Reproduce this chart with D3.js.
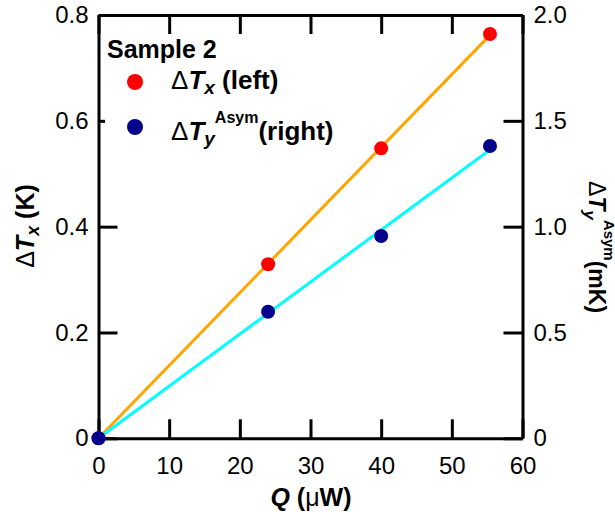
<!DOCTYPE html>
<html>
<head>
<meta charset="utf-8">
<script src="https://cdn.jsdelivr.net/npm/d3@7"></script>
<style>
body { margin: 0; background: #fff; }
text { font-family: "Liberation Sans", Arial, sans-serif; }
</style>
</head>
<body>
<svg id="chart" width="615" height="512"></svg>
<script>
// values (Sample 2)
var qValues = [0, 24, 40, 55.4];          // Q (uW)
var dTx = [0, 0.329, 0.548, 0.764];       // dTx (K), left axis
var dTyAsym = [0, 0.598, 0.956, 1.381];   // dTy^Asym (mK), right axis
var xTicks = [0, 10, 20, 30, 40, 50, 60];
var leftTicks = [0, 0.2, 0.4, 0.6, 0.8];
var rightTicks = [0, 0.5, 1.0, 1.5, 2.0];

var svg = d3.select("#chart");
// note: "top" is taken by window.top, so use plot* names
var plotLeft = 98.5, plotRight = 522.5, plotTop = 15, plotBottom = 438.3;
var tickLen = 19;

var x = d3.scaleLinear().domain([0, 60]).range([plotLeft, plotRight]);
var yL = d3.scaleLinear().domain([0, 0.8]).range([plotBottom, plotTop]);
var yR = d3.scaleLinear().domain([0, 2.0]).range([plotBottom, plotTop]);

function fmt(d) {
    return d === 0 ? "0" : d3.format(".1f")(d);
}

function styleAxis(g) {
    g.selectAll("path, line").attr("stroke", "#000").attr("stroke-width", 3);
    g.selectAll("text").attr("fill", "#000").style("font-size", "24px")
        .style("font-family", '"Liberation Sans", Arial, sans-serif');
}

// fit lines through origin (least squares)
function slopeOf(xs, ys) {
    return d3.sum(xs, function (v, i) { return v * ys[i]; }) /
        d3.sum(xs, function (v) { return v * v; });
}
var xMax = d3.max(qValues);
var kx = slopeOf(qValues, dTx);
var ky = slopeOf(qValues, dTyAsym);

svg.append("line")
    .attr("x1", x(0)).attr("y1", yL(0))
    .attr("x2", x(xMax)).attr("y2", yL(kx * xMax))
    .attr("stroke", "#ffa500").attr("stroke-width", 3);

svg.append("line")
    .attr("x1", x(0)).attr("y1", yR(0))
    .attr("x2", x(xMax)).attr("y2", yR(ky * xMax))
    .attr("stroke", "#00ffff").attr("stroke-width", 3);

// axes, ticks pointing in
svg.append("g").attr("transform", "translate(0," + plotBottom + ")")
    .call(d3.axisBottom(x).tickValues(xTicks).tickSize(-tickLen).tickSizeOuter(0)
        .tickPadding(19).tickFormat(d3.format("d")))
    .call(styleAxis);

svg.append("g").attr("transform", "translate(0," + plotTop + ")")
    .call(d3.axisTop(x).tickValues(xTicks).tickSize(-tickLen).tickSizeOuter(0)
        .tickFormat(""))
    .call(styleAxis);

svg.append("g").attr("transform", "translate(" + plotLeft + ",0)")
    .call(d3.axisLeft(yL).tickValues(leftTicks).tickSize(-tickLen).tickSizeOuter(0)
        .tickPadding(10).tickFormat(fmt))
    .call(styleAxis);

svg.append("g").attr("transform", "translate(" + plotRight + ",0)")
    .call(d3.axisRight(yR).tickValues(rightTicks).tickSize(-tickLen).tickSizeOuter(0)
        .tickPadding(11).tickFormat(fmt))
    .call(styleAxis);

// points
svg.append("g").selectAll("circle")
    .data(qValues)
    .join("circle")
    .attr("cx", function (d) { return x(d); })
    .attr("cy", function (d, i) { return yL(dTx[i]); })
    .attr("r", 7)
    .attr("fill", "#ff0000");

svg.append("g").selectAll("circle")
    .data(qValues)
    .join("circle")
    .attr("cx", function (d) { return x(d); })
    .attr("cy", function (d, i) { return yR(dTyAsym[i]); })
    .attr("r", 7)
    .attr("fill", "#00008b");

// legend
var leg = svg.append("g");
leg.append("rect")
    .attr("x", 105).attr("y", 36).attr("width", 240).attr("height", 112)
    .attr("fill", "#fff");
leg.append("text").attr("x", 107).attr("y", 58)
    .style("font-size", "25px").style("font-weight", "bold")
    .text("Sample 2");
leg.append("circle").attr("cx", 135).attr("cy", 82).attr("r", 8).attr("fill", "#ff0000");
leg.append("circle").attr("cx", 135).attr("cy", 127).attr("r", 8).attr("fill", "#00008b");

var t1 = leg.append("text").attr("x", 171).attr("y", 89)
    .style("font-size", "26px").style("font-weight", "bold");
t1.append("tspan").style("font-weight", "normal").text("\u0394");
t1.append("tspan").style("font-style", "italic").text("T");
t1.append("tspan").style("font-style", "italic").style("font-size", "19px").attr("dy", 5).text("x");
t1.append("tspan").attr("dy", -5).text(" (left)");

var t2 = leg.append("text").attr("x", 171).attr("y", 140)
    .style("font-size", "26px").style("font-weight", "bold");
t2.append("tspan").style("font-weight", "normal").text("\u0394");
t2.append("tspan").style("font-style", "italic").text("T");
t2.append("tspan").style("font-style", "italic").style("font-size", "19px").attr("dy", 5).text("y");
t2.append("tspan").style("font-size", "16px").attr("dy", -22).text("Asym");
t2.append("tspan").attr("dy", 17).text("(right)");

// axis titles
var xt = svg.append("text").attr("x", 311).attr("y", 506)
    .attr("text-anchor", "middle")
    .style("font-size", "25px").style("font-weight", "bold");
xt.append("tspan").style("font-style", "italic").text("Q");
xt.append("tspan").text(" (");
xt.append("tspan").style("font-weight", "normal").text("\u03bc");
xt.append("tspan").text("W)");

var ylt = svg.append("text")
    .attr("transform", "translate(34,226) rotate(-90)")
    .attr("text-anchor", "middle")
    .style("font-size", "25px").style("font-weight", "bold");
ylt.append("tspan").style("font-weight", "normal").text("\u0394");
ylt.append("tspan").style("font-style", "italic").text("T");
ylt.append("tspan").style("font-style", "italic").style("font-size", "18px").attr("dy", 5).text("x");
ylt.append("tspan").attr("dy", -5).text(" (K)");

var yrt = svg.append("text")
    .attr("transform", "translate(589,247) rotate(90)")
    .attr("text-anchor", "middle")
    .style("font-size", "23px").style("font-weight", "bold");
yrt.append("tspan").style("font-weight", "normal").text("\u0394");
yrt.append("tspan").style("font-style", "italic").text("T");
yrt.append("tspan").style("font-style", "italic").style("font-size", "17px").attr("dy", 5).text("y");
yrt.append("tspan").style("font-size", "15px").attr("dy", -20).text("Asym");
yrt.append("tspan").attr("dy", 15).text("(mK)");
</script>
</body>
</html>
